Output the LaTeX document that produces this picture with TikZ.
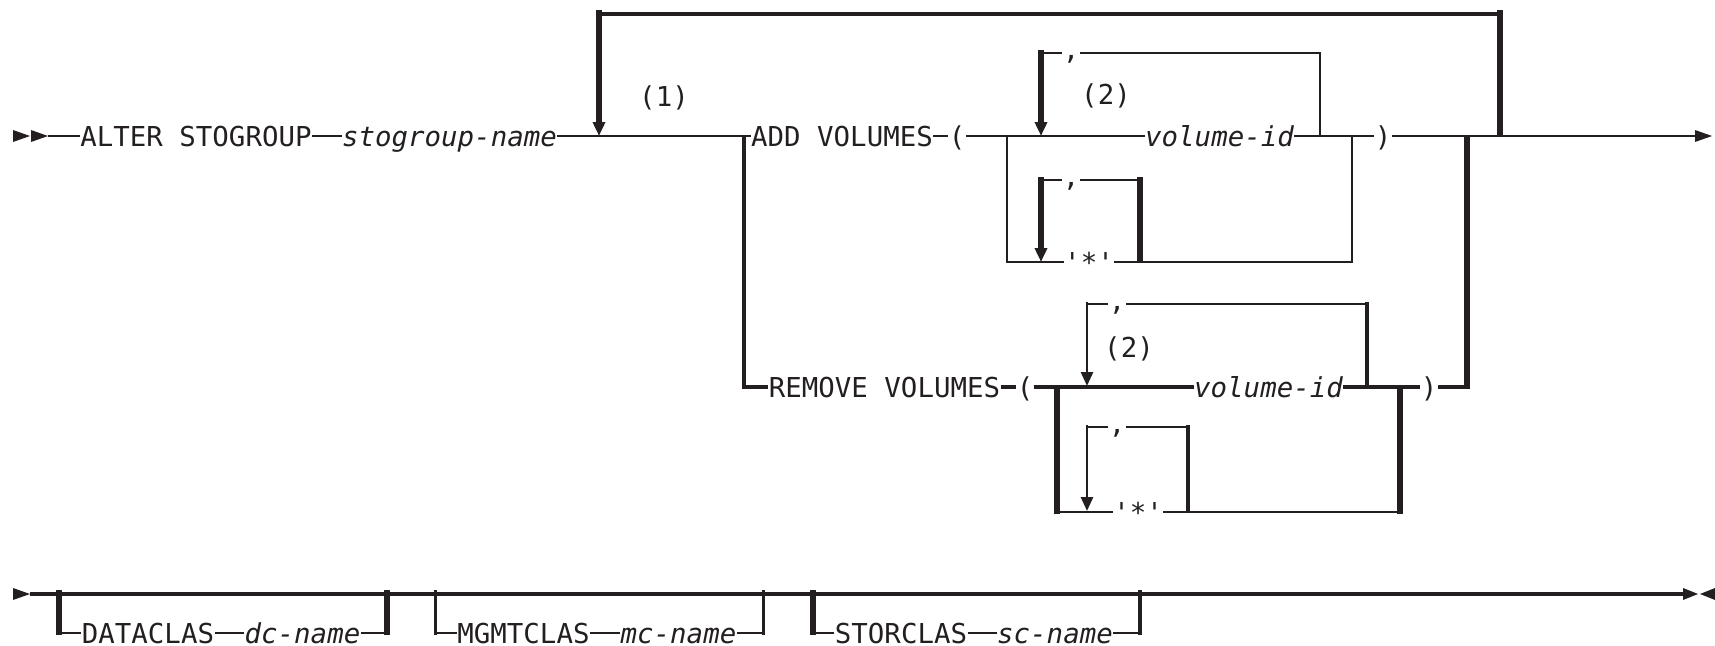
\documentclass[tikz,border=0pt]{standalone}
\usepackage{fontspec}
\newfontfamily\railfont{DejaVu Sans Mono}
\usetikzlibrary{arrows.meta}
\definecolor{railink}{HTML}{231F20}
\tikzset{
  rail/.style={draw=railink, line width=0.27mm},
  railmid/.style={draw=railink, line width=0.42mm},
  railbold/.style={draw=railink, line width=0.65mm},
  kw/.style={font=\railfont\fontsize{7.8pt}{9pt}\selectfont, text=railink,
    inner sep=0pt, text height=2mm, text depth=0pt},
  var/.style={kw, font=\railfont\itshape\fontsize{7.8pt}{9pt}\selectfont},
  sep/.style={kw, text height=1.2mm},
  repeatin/.style={-{Triangle[length=1.4mm,width=1.2mm]}}
}

\begin{document}
\begin{tikzpicture}[x=0.1mm, y=-0.1mm]
\useasboundingbox (0,0) rectangle (1715,646);

% Start and end marks
\foreach \x in {13,31} {
  \fill[railink] (\x,130) -- (\x+17,136) -- (\x,142) -- cycle;
}
\fill[railink] (1695,130) -- (1712,136) -- (1695,142) -- cycle;
\fill[railink] (13,588) -- (30,594) -- (13,600) -- cycle;
\fill[railink] (1683,588) -- (1698,594) -- (1683,600) -- cycle;
\fill[railink] (1715,588) -- (1700,594) -- (1715,600) -- cycle;
\coordinate (start) at (48,136);
\coordinate (finish) at (1695,136);
\coordinate (startb) at (30,594);
\coordinate (finishb) at (1683,594);

% Row one
\node[kw]  (alter)   at (196,136)    {ALTER STOGROUP};
\node[var] (sgname)  at (449.5,136)  {stogroup-name};
\node[kw]  (one)     at (664,96)     {(1)};
\node[kw]  (addkw)   at (842,136)    {ADD VOLUMES};
\node[kw]  (addlp)   at (957,136)    {(};
\node[var] (addvol)  at (1219.5,136) {volume-id};
\node[kw]  (addrp)   at (1383,136)   {)};
\node[kw]  (addtwo)  at (1106,95)    {(2)};
\node[sep] (addsep)  at (1071,53)    {,};
\node[sep] (addsepb) at (1071,180)   {,};
\node[kw]  (addstar) at (1089,262)   {\textquotesingle*\textquotesingle};

\draw[rail] (start) -- (alter.west);
\draw[rail] (alter.east) -- (sgname.west);
\draw[rail] (sgname.east) -- (addkw.west);
\draw[rail] (addkw.east) -- (addlp.west);
\draw[rail] (addlp.east) -- (addvol.west);
\draw[rail] (addvol.east) -- (addrp.west);
\draw[rail] (addrp.east) -- (finish);

% Repeat of the whole clause
\coordinate (backl) at (599,136);
\coordinate (backr) at (1500,136);
\draw[railbold] (backr) -- (1500,10);
\draw[draw=railink, line width=0.38mm] (1500,14) -- (599,14);
\draw[railbold, repeatin] (599,10) -- (backl);

% ADD VOLUMES: volume-id repeated
\draw[rail] (1320,136) |- (addsep.east);
\draw[rail] (addsep.west) -- (1041,53);
\draw[railbold, repeatin] (1041,50) -- (1041,136);

% ADD VOLUMES: '*' repeated
\draw[rail] (1007,136) |- (addstar.west);
\draw[rail] (addstar.east) -| (1352,136);
\draw[railbold] (1140,263) -- (1140,177);
\draw[rail] (1140,180) -- (addsepb.east);
\draw[rail] (addsepb.west) -- (1041,180);
\draw[railbold, repeatin] (1041,177) -- (1041,262);

% Join of the two choices
\draw[railbold] (1467,136) -- (1467,389);

% Row two: REMOVE VOLUMES
\node[kw]  (remkw)   at (884.5,387)  {REMOVE VOLUMES};
\node[kw]  (remlp)   at (1025,387)   {(};
\node[var] (remvol)  at (1268.5,387) {volume-id};
\node[kw]  (remrp)   at (1429,387)   {)};
\node[kw]  (remtwo)  at (1129,347)   {(2)};
\node[sep] (remsep)  at (1117,304)   {,};
\node[sep] (remsepb) at (1117,427)   {,};
\node[kw]  (remstar) at (1138,512)   {\textquotesingle*\textquotesingle};

\draw[railmid] (744,136) |- (remkw.west);
\draw[railmid] (remkw.east) -- (remlp.west);
\draw[railmid] (remlp.east) -- (remvol.west);
\draw[railmid] (remvol.east) -- (remrp.west);
\draw[railmid] (remrp.east) -- (1467,387);

% REMOVE VOLUMES: volume-id repeated
\draw[railmid] (1367,387) -- (1367,302);
\draw[rail] (1367,304) -- (remsep.east);
\draw[rail] (remsep.west) -- (1087,304);
\draw[rail, repeatin] (1087,302) -- (1087,386);

% REMOVE VOLUMES: '*' repeated
\draw[railbold] (1057,387) -- (1057,514);
\draw[rail] (1057,512) -- (remstar.west);
\draw[rail] (remstar.east) -- (1400,512);
\draw[railbold] (1400,514) -- (1400,387);
\draw[railmid] (1188,513) -- (1188,425);
\draw[rail] (1188,427) -- (remsepb.east);
\draw[rail] (remsepb.west) -- (1087,427);
\draw[rail, repeatin] (1087,425) -- (1087,511);

% Row three: optional classes
\draw[railmid] (startb) -- (finishb);
\foreach \nm/\lx/\lw/\kx/\kt/\vx/\vt/\rx/\rw in {
    dc/59/0.6/148/DATACLAS/302.5/dc-name/387/0.65,
    mc/435/0.3/523.5/MGMTCLAS/678.5/mc-name/763/0.3,
    sc/813/0.65/901/STORCLAS/1055/sc-name/1140/0.4} {
  \node[kw]  (\nm kw)  at (\kx,633) {\kt};
  \node[var] (\nm var) at (\vx,633) {\vt};
  \draw[draw=railink, line width=\lw mm] (\lx,590) -- (\lx,634.5);
  \draw[rail] (\lx,633) -- (\nm kw.west);
  \draw[rail] (\nm kw.east) -- (\nm var.west);
  \draw[rail] (\nm var.east) -- (\rx,633);
  \draw[draw=railink, line width=\rw mm] (\rx,634.5) -- (\rx,590);
}
\end{tikzpicture}
\end{document}
